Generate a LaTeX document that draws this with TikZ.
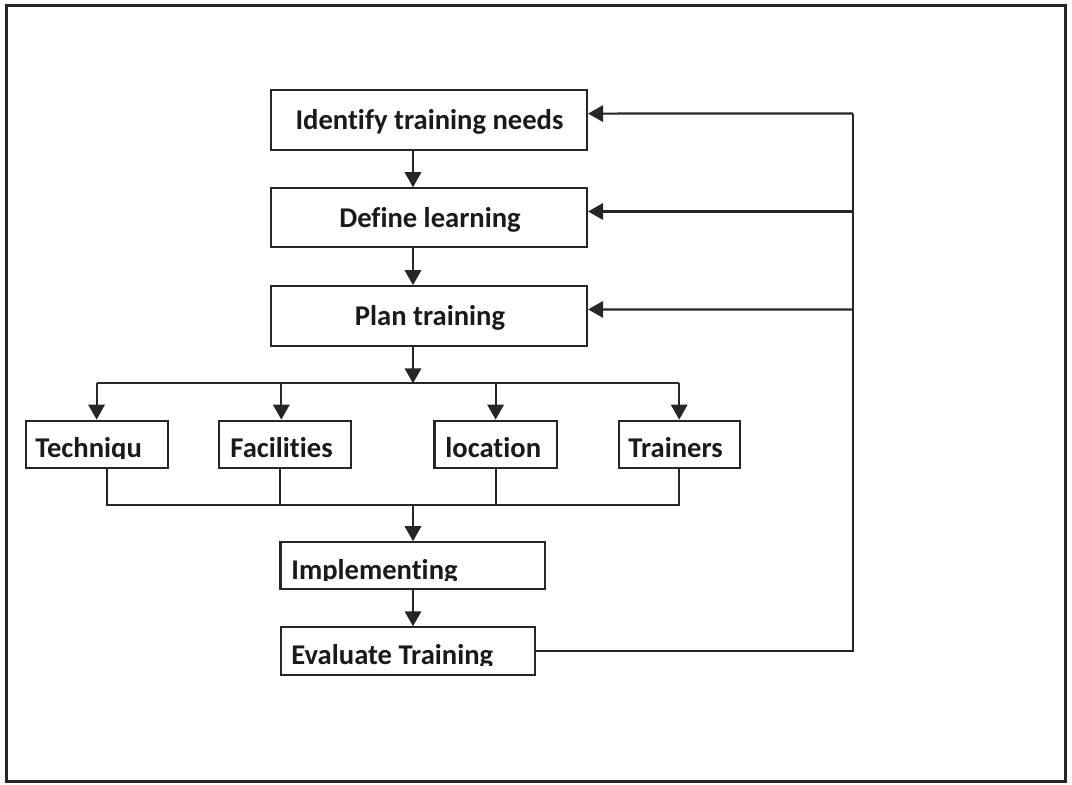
\documentclass[tikz,border=0pt]{standalone}
\usepackage{fontspec}
\setmainfont[Ligatures=NoCommon]{Carlito}
\usetikzlibrary{arrows.meta,calc}
\definecolor{ink}{HTML}{262626}
\definecolor{txt}{HTML}{1A1A1A}
\tikzset{
  line/.style={draw=ink,line width=1.1pt},
  arr/.style={line,-{Triangle[length=7.5pt,width=8.2pt]}},
  box/.style={draw=ink,line width=1.1pt,rectangle,inner sep=0pt,fill=white},
  lbl/.style={inner sep=0pt,text=txt,font=\fontsize{14.3}{17}\selectfont\bfseries},
  frame/.style={draw=ink,line width=1.5pt}
}
\begin{document}
\begin{tikzpicture}[x=0.5pt,y=-0.5pt]
\useasboundingbox[fill=white] (0,0) rectangle (1072,784);
\draw[frame] (6.5,5) rectangle (1065,781.5);

% top boxes
\node[box,minimum width=158pt,minimum height=30pt] (ident) at (429,120) {};
\node[lbl,anchor=base] (identT) at (429.5,129) {Identify training needs};
\node[box,minimum width=158pt,minimum height=29.2pt] (define) at (429,217.5) {};
\node[lbl,anchor=base] (defineT) at (430,227.5) {Define learning};
\node[box,minimum width=158pt,minimum height=29.8pt] (plan) at (429,316) {};
\node[lbl,anchor=base] (planT) at (430,325.5) {Plan training};

% middle boxes
\node[box,minimum width=71pt,minimum height=23.8pt] (tech) at (96.6,444.5) {};
\node[box,minimum width=66pt,minimum height=23.8pt] (fac) at (285.3,444.5) {};
\node[box,minimum width=61.2pt,minimum height=23.8pt] (loc) at (495.6,444.5) {};
\node[box,minimum width=60.5pt,minimum height=23.8pt] (trn) at (679.2,444.5) {};
\begin{scope}
  \clip (20,415) rectangle (750,458.5);
  \node[lbl,anchor=base west] (techT) at (35,457) {Techniqu};
  \node[lbl,anchor=base west] (facT) at (230,457) {Facilities};
  \node[lbl,anchor=base west] (locT) at (445,457) {location};
  \node[lbl,anchor=base west] (trnT) at (628,457) {Trainers};
\end{scope}

% bottom boxes
\node[box,minimum width=132.4pt,minimum height=23.5pt] (impl) at (412.9,565.8) {};
\node[box,minimum width=127pt,minimum height=23.85pt] (eval) at (407.6,651.2) {};
\begin{scope}
  \clip (270,540) rectangle (560,580.5);
  \node[lbl,anchor=base west] (implT) at (291,579) {Implementing};
\end{scope}
\begin{scope}
  \clip (270,625) rectangle (560,665.5);
  \node[lbl,anchor=base west] (evalT) at (291,664) {Evaluate Training};
\end{scope}

% main flow
\coordinate (ax) at (413,0);
\draw[arr] (ident.south -| ax) -- (define.north -| ax);
\draw[arr] (define.south -| ax) -- (plan.north -| ax);
\coordinate (br) at (413,383.3);
\draw[arr] (plan.south -| br) -- (br);
\draw[line] (tech.north |- br) -- (trn.north |- br);
\draw[arr] (tech.north |- br) -- (tech.north);
\draw[arr] ([xshift=-2pt]fac.north |- br) -- ([xshift=-2pt]fac.north);
\draw[arr] (loc.north |- br) -- (loc.north);
\draw[arr] (trn.north |- br) -- (trn.north);

\coordinate (mg) at (413,505);
\draw[line] ([xshift=5.2pt]tech.south) |- (mg) -| (trn.south);
\draw[line] ([xshift=-2.6pt]fac.south) coordinate (f1) -- (f1 |- mg);
\draw[line] (loc.south) -- (loc.south |- mg);
\draw[arr] (mg) -- (impl.north -| mg);
\draw[arr] (impl.south -| mg) -- (eval.north -| mg);

% feedback loop
\coordinate (fb1) at (853,113.5);
\coordinate (fb2) at (853,211.5);
\coordinate (fb3) at (853,309.5);
\draw[line] (eval.east) -| (fb1);
\draw[arr] (fb1) -- ([yshift=3.2pt]ident.east);
\draw[arr] (fb2) -- ([yshift=3pt]define.east);
\draw[arr] (fb3) -- ([yshift=3.3pt]plan.east);
\end{tikzpicture}
\end{document}
